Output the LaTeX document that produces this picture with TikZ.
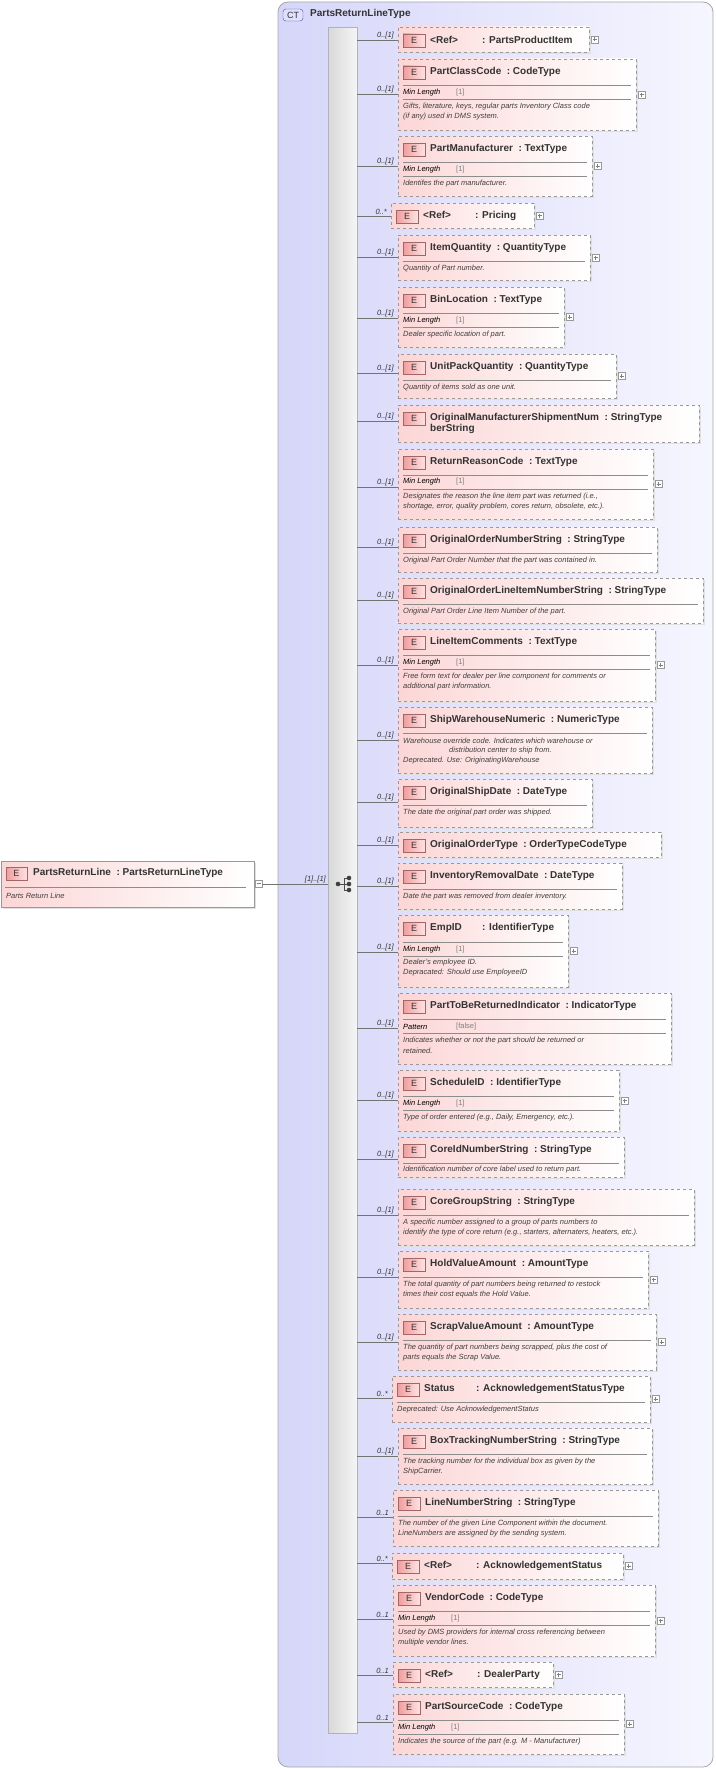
\documentclass[tikz,border=0pt]{standalone}
\usepackage{fontspec}
\setmainfont{Liberation Sans}
\definecolor{boxpink}{HTML}{FCD6D6}
\definecolor{badgeA}{HTML}{F19C9C}
\definecolor{badgeB}{HTML}{FDE3E3}
\definecolor{ctA}{HTML}{D6D6FA}
\definecolor{ctB}{HTML}{F6F6FF}
\tikzset{
  ttl/.style={anchor=west,inner sep=0,font=\fontsize{10}{12}\selectfont\bfseries,text=black!80},
  doctxt/.style={anchor=west,inner sep=0,font=\fontsize{7.5}{9}\selectfont\itshape,text=black!75},
  facet/.style={anchor=west,inner sep=0,font=\fontsize{7.5}{9}\selectfont\itshape,text=black},
  facetv/.style={anchor=west,inner sep=0,font=\fontsize{7.5}{9}\selectfont,text=black!50},
  mult/.style={anchor=south east,inner sep=0,font=\fontsize{7.5}{9}\selectfont\itshape,text=black!80},
  sepline/.style={draw=black!45,line width=0.6pt},
  conn/.style={draw=black!55,line width=0.6pt},
  pm/.style={draw=black!40,fill=white,line width=0.5pt},
}
\newcommand\ebox[9]{%
  \fill[black!12] (#2+2,#3+2) rectangle (#4+2,#5+2);
  \shade[left color=boxpink,right color=white] (#2,#3) rectangle (#4,#5);
  \node[draw=black!40,dashed,line width=0.6pt,inner sep=0,anchor=north west,minimum width={#4-#2},minimum height={#5-#3}] (#1) at (#2,#3) {};
  \coordinate (#1c) at (#2,#6);
  \draw[conn] (bar.east |- #1c) -- (#1c);
  \node[mult] at (#2-4,#6-1) {#7};
  \shade[left color=badgeA,right color=badgeB,draw=black!60!red!60] (#2+5,#3+7) rectangle (#2+27,#3+20);
  \node[inner sep=0,font=\fontsize{9}{10}\selectfont,text=black!80] at (#2+16,#3+13.5) {E};
  \node[ttl] at (#2+32,#3+13) {#9};
  \ifnum#8=1
    \draw[pm] (#4+2,{(#3+#5)/2-3.5}) rectangle (#4+9,{(#3+#5)/2+3.5});
    \draw[black!50,line width=0.5pt] (#4+3.5,{(#3+#5)/2}) -- (#4+7.5,{(#3+#5)/2}) (#4+5.5,{(#3+#5)/2-2}) -- (#4+5.5,{(#3+#5)/2+2});
  \fi
}
\newcommand\hsep[3]{\draw[sepline] (#1+5,#3) -- (#2-5,#3);}
\newcommand\facetrow[4]{\node[facet] at (#1+5,#2) {#3}; \node[facetv] at (#1+58,#2) {#4};}
\newcommand\dl[3]{\node[doctxt] at (#1,#2) {#3};}
\newcommand\rf[2]{\makebox[52pt][l]{#1}: #2}
\newcommand\cl{\ \ :\ }
\begin{document}
\begin{tikzpicture}[x=1pt,y=-1pt]
\useasboundingbox (0,0) rectangle (715,1769);
% container
\shade[left color=ctA,right color=ctB,rounded corners=10pt,draw=black!35,line width=0.8pt] (278,2) rectangle (713,1767);
\node[draw=black!50!blue!70,fill=ctA!70!blue!30,rounded corners=3pt,inner sep=0,minimum width=20,minimum height=12,font=\fontsize{9}{10}\selectfont,text=black!80] (ct) at (293,15) {CT};
\node[ttl] (ctname) at (310,14) {PartsReturnLineType};
% bar
\node[draw=black!30,left color=black!15,right color=black!4,inner sep=0,minimum width=29,minimum height=1706,anchor=north west] (bar) at (328,27) {};
% root element
\fill[black!12] (3,863) rectangle (256,909);
\shade[left color=boxpink,right color=white] (1,861) rectangle (254,907);
\node[draw=black!40,line width=0.6pt,inner sep=0,anchor=north west,minimum width=253,minimum height=46] (root) at (1,861) {};
\shade[left color=badgeA,right color=badgeB,draw=black!60!red!60] (6,867) rectangle (27,880);
\node[inner sep=0,font=\fontsize{9}{10}\selectfont,text=black!80] at (16.5,873.5) {E};
\node[ttl] at (33,873) {PartsReturnLine\cl PartsReturnLineType};
\draw[sepline] (5,887) -- (246,887);
\node[doctxt] at (6,896) {Parts Return Line};
\draw[pm] (255,880) rectangle (262,887);
\draw[black!50,line width=0.5pt] (256.5,883.5) -- (260.5,883.5);
\coordinate (rootc) at (262,884);
\draw[conn] (rootc) -- (bar.west |- rootc);
\node[mult] at (326,883) {[1]..[1]};
% sequence icon
\coordinate (sq) at (338,884);
\draw[black!70,line width=0.8pt] (sq) -- (344,884) (344,878) -- (344,890) (344,878) -- (349,878) (344,890) -- (349,890) (344,884) -- (349,884);
\fill[black!75] (sq) circle [radius=2.3pt] (349,878) circle [radius=2.3pt] (349,884) circle [radius=2.3pt] (349,890) circle [radius=2.3pt];
% elements
\ebox{e1}{398}{27}{589}{52}{40}{0..[1]}{1}{\rf{<Ref>}{PartsProductItem}}
\ebox{e2}{398}{59}{636}{130}{94}{0..[1]}{1}{PartClassCode\cl CodeType}
\hsep{398}{636}{85}\facetrow{398}{93}{Min Length}{[1]}\hsep{398}{636}{99}
\dl{403}{107}{Gifts, literature, keys, regular parts Inventory Class code}
\dl{403}{117}{(if any) used in DMS system.}
\ebox{e3}{398}{136}{592}{196}{166}{0..[1]}{1}{PartManufacturer\cl TextType}
\hsep{398}{592}{162}\facetrow{398}{170}{Min Length}{[1]}\hsep{398}{592}{176}
\dl{403}{184}{Identifes the part manufacturer.}
\ebox{e4}{391}{203}{534}{228}{216}{0..*}{1}{\rf{<Ref>}{Pricing}}
\ebox{e5}{398}{235}{590}{280}{257}{0..[1]}{1}{ItemQuantity\cl QuantityType}
\hsep{398}{590}{261}\dl{403}{269}{Quantity of Part number.}
\ebox{e6}{398}{287}{564}{347}{318}{0..[1]}{1}{BinLocation\cl TextType}
\hsep{398}{564}{313}\facetrow{398}{321}{Min Length}{[1]}\hsep{398}{564}{327}
\dl{403}{335}{Dealer specific location of part.}
\ebox{e7}{398}{354}{616}{398}{373}{0..[1]}{1}{UnitPackQuantity\cl QuantityType}
\hsep{398}{616}{380}\dl{403}{388}{Quantity of items sold as one unit.}
\ebox{e8}{398}{405}{699}{442}{421}{0..[1]}{0}{OriginalManufacturerShipmentNum\cl StringType}
\node[ttl] at (430,429) {berString};
\ebox{e9}{398}{449}{653}{519}{487}{0..[1]}{1}{ReturnReasonCode\cl TextType}
\hsep{398}{653}{475}\facetrow{398}{482}{Min Length}{[1]}\hsep{398}{653}{489}
\dl{403}{497}{Designates the reason the line item part was returned (i.e.,}
\dl{403}{507}{shortage, error, quality problem, cores return, obsolete, etc.).}
\ebox{e10}{398}{527}{657}{572}{547}{0..[1]}{0}{OriginalOrderNumberString\cl StringType}
\hsep{398}{657}{553}\dl{403}{561}{Original Part Order Number that the part was contained in.}
\ebox{e11}{398}{578}{703}{623}{600}{0..[1]}{0}{OriginalOrderLineItemNumberString\cl StringType}
\hsep{398}{703}{604}\dl{403}{612}{Original Part Order Line Item Number of the part.}
\ebox{e12}{398}{629}{655}{701}{665}{0..[1]}{1}{LineItemComments\cl TextType}
\hsep{398}{655}{655}\facetrow{398}{663}{Min Length}{[1]}\hsep{398}{655}{669}
\dl{403}{677}{Free form text for dealer per line component for comments or}
\dl{403}{687}{additional part information.}
\ebox{e13}{398}{707}{652}{773}{740}{0..[1]}{0}{ShipWarehouseNumeric\cl NumericType}
\hsep{398}{652}{733}
\dl{403}{741}{Warehouse override code. Indicates which warehouse or}
\dl{449}{751}{distribution center to ship from.}
\dl{403}{761}{Deprecated. Use: OriginatingWarehouse}
\ebox{e14}{398}{779}{592}{827}{802}{0..[1]}{0}{OriginalShipDate\cl DateType}
\hsep{398}{592}{805}\dl{403}{813}{The date the original part order was shipped.}
\ebox{e15}{398}{832}{661}{857}{845}{0..[1]}{0}{OriginalOrderType\cl OrderTypeCodeType}
\ebox{e16}{398}{863}{622}{909}{886}{0..[1]}{0}{InventoryRemovalDate\cl DateType}
\hsep{398}{622}{889}\dl{403}{897}{Date the part was removed from dealer inventory.}
\ebox{e17}{398}{915}{568}{987}{952}{0..[1]}{1}{\rf{EmpID}{IdentifierType}}
\hsep{398}{568}{942}\facetrow{398}{950}{Min Length}{[1]}\hsep{398}{568}{956}
\dl{403}{963}{Dealer's employee ID.}
\dl{403}{973}{Depracated: Should use EmployeeID}
\ebox{e18}{398}{993}{671}{1064}{1028}{0..[1]}{0}{PartToBeReturnedIndicator\cl IndicatorType}
\hsep{398}{671}{1019}\facetrow{398}{1027}{Pattern}{[false]}\hsep{398}{671}{1033}
\dl{403}{1041}{Indicates whether or not the part should be returned or}
\dl{403}{1051}{retained.}
\ebox{e19}{398}{1070}{619}{1131}{1100}{0..[1]}{1}{ScheduleID\cl IdentifierType}
\hsep{398}{619}{1096}\facetrow{398}{1104}{Min Length}{[1]}\hsep{398}{619}{1110}
\dl{403}{1118}{Type of order entered (e.g., Daily, Emergency, etc.).}
\ebox{e20}{398}{1137}{624}{1177}{1159}{0..[1]}{0}{CoreIdNumberString\cl StringType}
\hsep{398}{624}{1163}\dl{403}{1170}{Identification number of core label used to return part.}
\ebox{e21}{398}{1189}{694}{1245}{1215}{0..[1]}{0}{CoreGroupString\cl StringType}
\hsep{398}{694}{1215}
\dl{403}{1223}{A specific number assigned to a group of parts numbers to}
\dl{403}{1233}{identify the type of core return (e.g., starters, alternaters, heaters, etc.).}
\ebox{e22}{398}{1251}{648}{1308}{1277}{0..[1]}{1}{HoldValueAmount\cl AmountType}
\hsep{398}{648}{1277}
\dl{403}{1285}{The total quantity of part numbers being returned to restock}
\dl{403}{1295}{times their cost equals the Hold Value.}
\ebox{e23}{398}{1314}{656}{1370}{1342}{0..[1]}{1}{ScrapValueAmount\cl AmountType}
\hsep{398}{656}{1340}
\dl{403}{1348}{The quantity of part numbers being scrapped, plus the cost of}
\dl{403}{1358}{parts equals the Scrap Value.}
\ebox{e24}{392}{1376}{650}{1422}{1398}{0..*}{1}{\rf{Status}{AcknowledgementStatusType}}
\hsep{392}{650}{1402}\dl{397}{1410}{Deprecated: Use AcknowledgementStatus}
\ebox{e25}{398}{1428}{652}{1484}{1456}{0..[1]}{0}{BoxTrackingNumberString\cl StringType}
\hsep{398}{652}{1454}
\dl{403}{1462}{The tracking number for the individual box as given by the}
\dl{403}{1472}{ShipCarrier.}
\ebox{e26}{393}{1490}{658}{1546}{1517}{0..1}{0}{LineNumberString\cl StringType}
\hsep{393}{658}{1516}
\dl{398}{1524}{The number of the given Line Component within the document.}
\dl{398}{1534}{LineNumbers are assigned by the sending system.}
\ebox{e27}{392}{1553}{623}{1579}{1563}{0..*}{1}{\rf{<Ref>}{AcknowledgementStatus}}
\ebox{e28}{393}{1585}{655}{1656}{1619}{0..1}{1}{VendorCode\cl CodeType}
\hsep{393}{655}{1611}\facetrow{393}{1619}{Min Length}{[1]}\hsep{393}{655}{1625}
\dl{398}{1633}{Used by DMS providers for internal cross referencing between}
\dl{398}{1643}{multiple vendor lines.}
\ebox{e29}{393}{1662}{553}{1687}{1675}{0..1}{1}{\rf{<Ref>}{DealerParty}}
\ebox{e30}{393}{1694}{624}{1754}{1722}{0..1}{1}{PartSourceCode\cl CodeType}
\hsep{393}{624}{1720}\facetrow{393}{1728}{Min Length}{[1]}\hsep{393}{624}{1734}
\dl{398}{1742}{Indicates the source of the part (e.g. M - Manufacturer)}
\end{tikzpicture}
\end{document}
